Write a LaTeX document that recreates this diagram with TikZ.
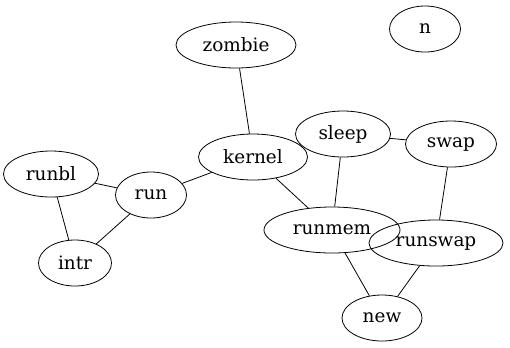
\documentclass[tikz,border=0pt]{standalone}
\usepackage{fontspec}
\setmainfont{DejaVu Serif}
\usetikzlibrary{shapes.geometric}
\begin{document}
\begin{tikzpicture}[x=1bp,y=-1bp,
  nd/.style={draw,ellipse,line width=0.8pt,inner sep=0pt,font=\fontsize{18.5}{20}\selectfont},
  ed/.style={draw,line width=0.8pt}]
\useasboundingbox (0,0) rectangle (510,347);
\node[nd,minimum width=120bp,minimum height=46bp] (zombie) at (236,45) {zombie};
\node[nd,minimum width=71bp,minimum height=46bp] (n) at (425,29) {n};
\node[nd,minimum width=109bp,minimum height=46bp] (kernel) at (253,157) {kernel};
\node[nd,minimum width=95bp,minimum height=46bp] (sleep) at (343,134) {sleep};
\node[nd,minimum width=91bp,minimum height=46bp] (swap) at (451,144) {swap};
\node[nd,minimum width=95bp,minimum height=46bp] (runbl) at (51,174) {runbl};
\node[nd,minimum width=71bp,minimum height=46bp] (run) at (151,195) {run};
\node[nd,minimum width=73bp,minimum height=46bp] (intr) at (75,263) {intr};
\node[nd,minimum width=136bp,minimum height=46bp] (runmem) at (332,230) {runmem};
\node[nd,minimum width=134bp,minimum height=46bp] (runswap) at (436,243) {runswap};
\node[nd,minimum width=80bp,minimum height=46bp] (new) at (382,318) {new};
\draw[ed] (zombie) -- (kernel);
\draw[ed] (kernel) -- (run);
\draw[ed] (kernel) -- (sleep);
\draw[ed] (kernel) -- (runmem);
\draw[ed] (runbl) -- (run);
\draw[ed] (runbl) -- (intr);
\draw[ed] (run) -- (intr);
\draw[ed] (sleep) -- (runmem);
\draw[ed] (sleep) -- (swap);
\draw[ed] (swap) -- (runswap);
\draw[ed] (runmem) -- (new);
\draw[ed] (runswap) -- (new);
\end{tikzpicture}
\end{document}
